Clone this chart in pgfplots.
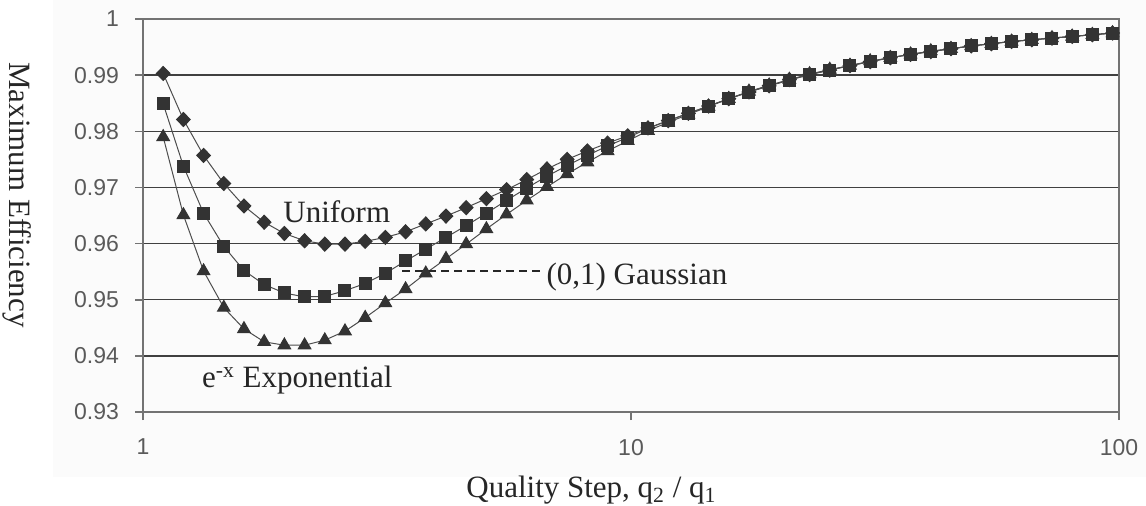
\documentclass[border=0pt]{standalone}
\usepackage{fontspec}
\setmainfont{Liberation Serif}
\newfontfamily\arial{Liberation Sans}
\usepackage{pgfplots}
\usepackage{pgfplotstable}
\pgfplotsset{compat=1.18}

\definecolor{mk}{HTML}{333333}
\definecolor{ln}{HTML}{4D4D4D}
\definecolor{grd}{HTML}{404040}
\definecolor{tk}{HTML}{5A5A5A}

% quality step q2/q1 = 1.1^k, k = 1..48
\pgfplotstableread{
x         uni     gau     exp
1.1       0.9903  0.9849  0.9790
1.21      0.9821  0.9738  0.9651
1.331     0.9757  0.9654  0.9551
1.4641    0.9707  0.9595  0.9486
1.61051   0.9667  0.9552  0.9448
1.771561  0.9638  0.9527  0.9425
1.948717  0.9618  0.9512  0.9419
2.143589  0.9605  0.9505  0.9419
2.357948  0.9599  0.9506  0.9428
2.593742  0.9599  0.9516  0.9444
2.853117  0.9604  0.9529  0.9468
3.138428  0.9611  0.9547  0.9494
3.452271  0.9621  0.9569  0.9519
3.797498  0.9635  0.9590  0.9547
4.177248  0.9649  0.9611  0.9573
4.594973  0.9664  0.9632  0.9599
5.054470  0.9680  0.9654  0.9626
5.559917  0.9696  0.9677  0.9652
6.115909  0.9714  0.9699  0.9677
6.727500  0.9733  0.9720  0.9701
7.400250  0.9750  0.9739  0.9724
8.140275  0.9765  0.9757  0.9745
8.954302  0.9779  0.9774  0.9765
9.849733  0.9792  0.9789  0.9783
10.834706 0.9806  0.9805  0.9801
11.918177 0.9819  0.9819  0.9816
13.109994 0.9832  0.9832  0.9830
14.420994 0.9845  0.9845  0.9844
15.863093 0.9858  0.9858  0.9858
17.449402 0.9870  0.9870  0.9871
19.194342 0.9881  0.9881  0.9882
21.113777 0.9892  0.9891  0.9892
23.225154 0.9901  0.9901  0.9902
25.547670 0.9909  0.9909  0.9910
28.102437 0.9917  0.9917  0.9917
30.912681 0.9924  0.9924  0.9925
34.003949 0.9931  0.9931  0.9931
37.404343 0.9937  0.9937  0.9937
41.144778 0.9942  0.9942  0.9943
45.259256 0.9947  0.9947  0.9947
49.785181 0.9952  0.9952  0.9952
54.763699 0.9956  0.9956  0.9956
60.240069 0.9960  0.9960  0.9960
66.264076 0.9963  0.9963  0.9963
72.890484 0.9966  0.9966  0.9966
80.179532 0.9969  0.9969  0.9969
88.197485 0.9972  0.9972  0.9972
97.017234 0.9975  0.9975  0.9975
}\effdata

\begin{document}
\begin{tikzpicture}[
  lbl/.style={anchor=base west, inner sep=0pt, font=\fontsize{15.5}{16}\selectfont, text=black!85},
]
\fill[black!1.5] (-45pt,-32.5pt) rectangle (501.5pt,206pt);
\begin{axis}[
  scale only axis, width=488pt, height=196.5pt,
  xmode=log, xmin=1, xmax=100,
  ymin=0.93, ymax=1,
  xtick={1,10,100}, xticklabels={1,10,100}, xminorticks=false,
  ytick={0.93,0.94,0.95,0.96,0.97,0.98,0.99,1},
  yticklabels={0.93,0.94,0.95,0.96,0.97,0.98,0.99,1},
  ymajorgrids,
  major grid style={grd, line width=0.75pt},
  axis line style={black!55, line width=1pt},
  tick align=outside, major tick length=4pt, tick pos=left,
  tick style={black!55, line width=0.8pt},
  ticklabel style={font=\arial\fontsize{11.5}{12}\selectfont, text=tk},
  xticklabel shift=6pt, yticklabel shift=4.5pt,
  xlabel={Quality Step, q\textsubscript{2} / q\textsubscript{1}},
  ylabel={Maximum Efficiency},
  every axis x label/.style={at={(axis description cs:0.4595,-0.2188)}, anchor=base,
    font=\fontsize{15.5}{16}\selectfont, text=black!85},
  every axis y label/.style={at={(axis description cs:-0.1368,0.5522)}, anchor=base,
    rotate=-90, font=\fontsize{15.5}{16}\selectfont, text=black!85},
]
\addplot[ln, line width=0.5pt, mark=diamond*, mark size=3.5pt,
  mark options={fill=mk, draw=mk, xscale=1.3}] table[x=x, y=uni] {\effdata};
\addplot[ln, line width=0.5pt, mark=square*, mark size=3pt,
  mark options={fill=mk, draw=mk}] table[x=x, y=gau] {\effdata};
\addplot[ln, line width=0.5pt, mark=triangle*, mark size=3.6pt,
  mark options={fill=mk, draw=mk}] table[x=x, y=exp] {\effdata};

\node[lbl] at (axis cs:1.936,0.9637) {Uniform};
\draw[black!85, line width=1pt, dash pattern=on 4pt off 2.5pt]
  (axis cs:3.40,0.9552) -- (axis cs:6.57,0.9552);
\node[lbl] at (axis cs:6.70,0.9527) {(0,1) Gaussian};
\node[lbl] at (axis cs:1.319,0.93434) {e\textsuperscript{-x} Exponential};
\end{axis}
\pgfresetboundingbox
\useasboundingbox (-71.5pt,-46.5pt) rectangle (501.5pt,206pt);
\end{tikzpicture}
\end{document}
